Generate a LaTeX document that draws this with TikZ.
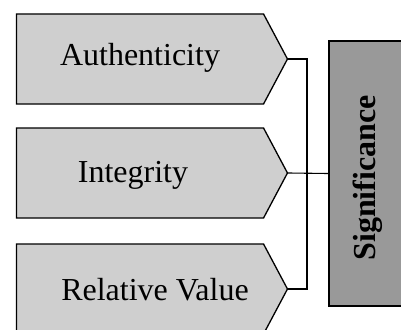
\documentclass[tikz,border=0pt]{standalone}
\usepackage{fontspec}
\setmainfont{Liberation Serif}
\usetikzlibrary{shapes.symbols}

\definecolor{pale}{gray}{0.81}
\definecolor{dark}{gray}{0.60}

\tikzset{
  arrowbox/.style={signal, signal to=east, draw, line width=1.3pt, fill=pale,
    minimum width=271pt, minimum height=90pt, signal pointer angle=124, inner sep=0pt},
  sigbox/.style={rectangle, draw, line width=1.3pt, fill=dark,
    minimum width=120pt, minimum height=265pt, inner sep=0pt},
  word/.style={font=\fontsize{32}{38}\selectfont, inner sep=0pt, anchor=base},
  link/.style={line width=1.1pt}
}

\begin{document}
\begin{tikzpicture}[x=1pt,y=-1pt]
\useasboundingbox (0,0) rectangle (401,329);

% three inputs
\node[arrowbox] (auth) at (140,59) {};
\node[arrowbox] (integ) at (140,173) {};
\node[arrowbox] (relv) at (140,289) {};
\node[word] (authtxt) at (140,66) {Authenticity};
\node[word] (integtxt) at (133,182) {Integrity};
\node[word] (relvtxt) at (155,300) {Relative Value};

% result
\node[sigbox] (sig) at (389,173.5) {};
\node[font=\fontsize{32}{38}\selectfont\bfseries, rotate=90, inner sep=0pt] (sigtxt) at (368,178) {Significance};

% bracket
\coordinate (join) at (307,173);
\draw[link] (auth.east) -| (join) |- (relv.east);
\draw[link] (integ.east) -- (sig.west);

\end{tikzpicture}
\end{document}
